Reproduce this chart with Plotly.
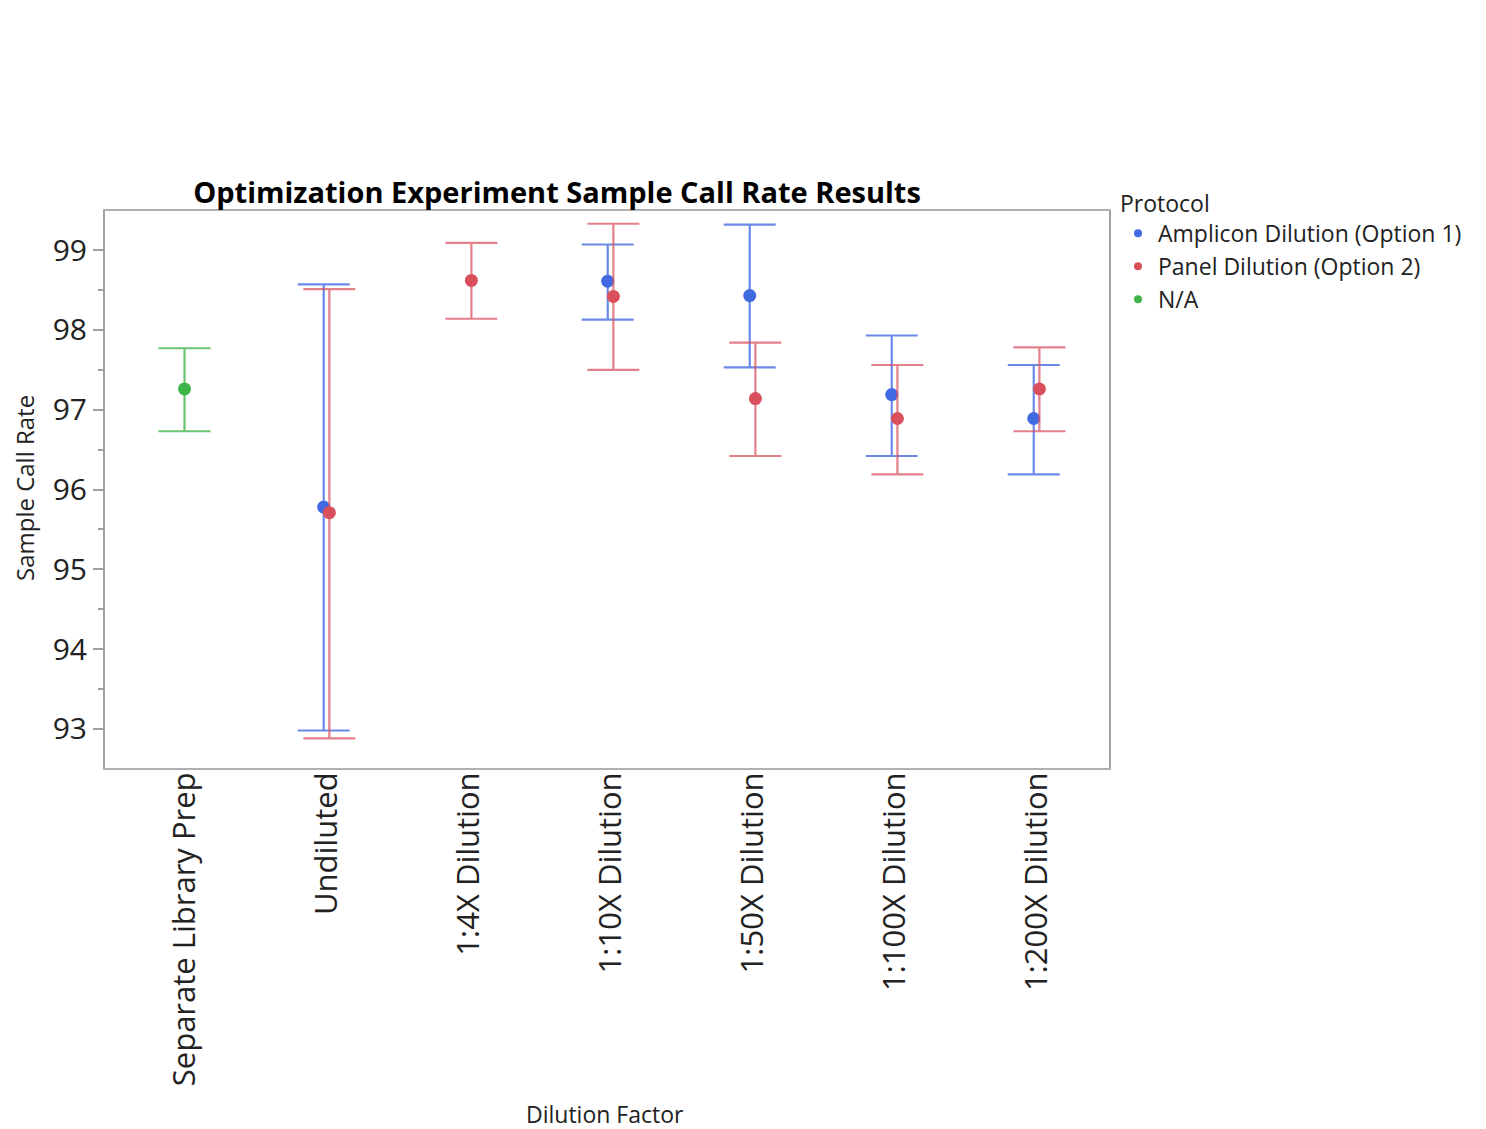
import plotly.graph_objects as go

# ---- data ----
categories = ["Separate Library Prep", "Undiluted", "1:4X Dilution", "1:10X Dilution",
              "1:50X Dilution", "1:100X Dilution", "1:200X Dilution"]

amp_cats = ["Undiluted", "1:10X Dilution", "1:50X Dilution", "1:100X Dilution", "1:200X Dilution"]
amp_mean = [95.78, 98.61, 98.43, 97.19, 96.89]
amp_upper = [98.57, 99.07, 99.32, 97.93, 97.56]
amp_lower = [92.98, 98.13, 97.53, 96.42, 96.19]

panel_cats = ["Undiluted", "1:4X Dilution", "1:10X Dilution", "1:50X Dilution", "1:100X Dilution", "1:200X Dilution"]
panel_mean = [95.71, 98.62, 98.42, 97.14, 96.89, 97.26]
panel_upper = [98.51, 99.09, 99.33, 97.84, 97.56, 97.78]
panel_lower = [92.88, 98.14, 97.50, 96.42, 96.19, 96.73]

na_cats = ["Separate Library Prep"]
na_mean = [97.26]
na_upper = [97.77]
na_lower = [96.73]

series_names = ["Amplicon Dilution (Option 1)", "Panel Dilution (Option 2)", "N/A"]
y_ticks = [93, 94, 95, 96, 97, 98, 99]

# ---- styling ----
FONT = "Open Sans"
BLUE = "#4169E1"
RED = "#D94F5C"
GREEN = "#3DB54A"
BLUE_E = "rgba(65,105,225,0.78)"
RED_E = "rgba(217,79,92,0.72)"
GREEN_E = "rgba(61,181,74,0.78)"

W, H = 1478, 1121          # page body has an 8px margin
OFF = 8
PL, PR, PT, PB = 105 - OFF, 1109 - OFF, 211 - OFF, 768 - OFF
PW, PH = PR - PL, PB - PT

fig = go.Figure()


def add_series(cats, mean, upper, lower, name, color, ecolor, offset):
    xs = [categories.index(c) + offset for c in cats]
    plus = [u - m for u, m in zip(upper, mean)]
    minus = [m - l for m, l in zip(mean, lower)]
    fig.add_trace(go.Scatter(
        x=xs, y=mean, mode="markers", name=name, showlegend=False,
        marker=dict(color=color, size=13),
        error_y=dict(type="data", symmetric=False, array=plus, arrayminus=minus,
                     color=ecolor, thickness=2.2, width=26),
    ))
    fig.add_trace(go.Scatter(
        x=[None], y=[None], mode="markers", name=name, showlegend=True,
        marker=dict(color=color, size=8),
    ))


add_series(amp_cats, amp_mean, amp_upper, amp_lower, series_names[0], BLUE, BLUE_E, -0.02)
add_series(panel_cats, panel_mean, panel_upper, panel_lower, series_names[1], RED, RED_E, 0.02)
add_series(na_cats, na_mean, na_upper, na_lower, series_names[2], GREEN, GREEN_E, 0.0)


def px_x(x):
    return (x - OFF - PL) / PW


def px_y(y):
    return (PB - (y - OFF)) / PH


fig.update_layout(
    width=W, height=H,
    margin=dict(l=PL, r=W - PR, t=PT, b=H - PB, pad=0),
    paper_bgcolor="white", plot_bgcolor="white",
    font=dict(family=FONT, color="#222222"),
    title=dict(text="<b>Optimization Experiment Sample Call Rate Results</b>",
               x=(557 - OFF) / W, xref="container", xanchor="center",
               y=1 - (193 - OFF) / H, yref="container", yanchor="middle",
               font=dict(family=FONT, size=29, color="#000000")),
    legend=dict(title=dict(text="Protocol", font=dict(size=23, color="#222222")),
                font=dict(size=23, color="#222222"),
                x=px_x(1118), xanchor="left", y=px_y(182), yanchor="top",
                bgcolor="rgba(0,0,0,0)", tracegroupgap=0),
    showlegend=True,
)

fig.update_xaxes(
    range=[-0.56, 6.51], tickvals=list(range(len(categories))), ticktext=categories,
    tickangle=-90, tickfont=dict(size=31, color="#222222"), ticklabelstandoff=-10,
    showgrid=False, zeroline=False, showline=True, linecolor="#b0b0b0", linewidth=2,
    mirror=True, ticks="", automargin=False,
)
fig.update_yaxes(
    range=[92.51, 99.49], tickvals=y_ticks, tickfont=dict(size=30, color="#222222"),
    showgrid=False, zeroline=False, showline=True, linecolor="#a0a0a0", linewidth=2,
    mirror=True, ticks="outside", ticklen=10, tickcolor="#a0a0a0", tickwidth=1.5,
    minor=dict(dtick=0.5, ticks="outside", ticklen=5, tickcolor="#a0a0a0", tickwidth=1.5),
    automargin=False,
)

fig.add_annotation(text="Sample Call Rate", x=px_x(24), y=px_y(488),
                   xref="paper", yref="paper", textangle=-90, showarrow=False,
                   font=dict(size=24, color="#222222"), xanchor="center", yanchor="middle")
fig.add_annotation(text="Dilution Factor", x=px_x(605), y=px_y(1114),
                   xref="paper", yref="paper", showarrow=False,
                   font=dict(size=23, color="#222222"), xanchor="center", yanchor="middle")

fig.write_html("out.html")
